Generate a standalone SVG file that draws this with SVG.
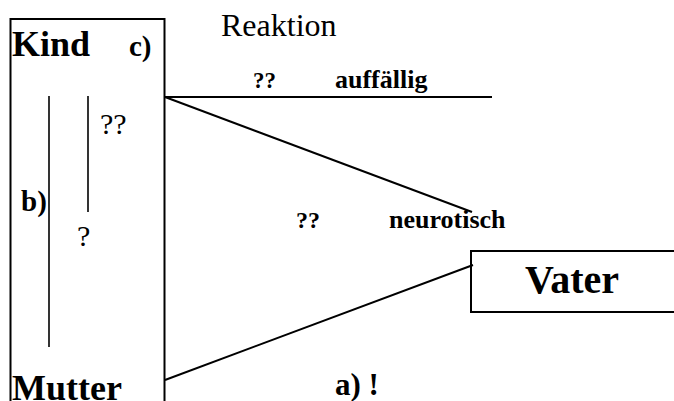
<svg xmlns="http://www.w3.org/2000/svg" width="674" height="401" viewBox="0 0 674 401">
<style>
.b{font-family:"Liberation Serif","Times New Roman",serif;font-weight:bold;fill:#000}
.r{font-family:"Liberation Serif","Times New Roman",serif;fill:#000}
.box{fill:#fff;stroke:#000;stroke-width:2}
.ln{stroke:#000;stroke-width:2;fill:none}
.thin{stroke:#000;stroke-width:1.6;fill:none}
</style>
<rect width="674" height="401" fill="#fff"/>
<g id="kind-mutter">
<rect class="box" x="10.5" y="19" width="154" height="400"/>
<text class="b" x="12" y="56" font-size="36">Kind</text>
<text class="b" x="129" y="56" font-size="29">c)</text>
<text class="b" x="12" y="400" font-size="36">Mutter</text>
</g>
<g id="inner">
<line class="thin" x1="49" y1="96" x2="49" y2="347"/>
<line class="thin" x1="88" y1="96" x2="88" y2="212"/>
<text class="r" x="100" y="134" font-size="30">??</text>
<text class="b" x="21" y="211" font-size="29">b)</text>
<text class="r" x="77" y="246" font-size="30">?</text>
</g>
<g id="vater">
<rect class="box" x="471" y="251" width="215" height="61"/>
<text class="b" x="525" y="293" font-size="40">Vater</text>
</g>
<g id="connectors">
<line class="ln" x1="165" y1="97" x2="492" y2="97"/>
<line class="ln" x1="165" y1="97" x2="472" y2="212"/>
<line class="ln" x1="165" y1="380" x2="473" y2="265"/>
</g>
<g id="labels">
<text class="r" x="221" y="36" font-size="32">Reaktion</text>
<text class="b" x="253" y="88" font-size="23">??</text>
<text class="b" x="335" y="88" font-size="26">auffällig</text>
<text class="b" x="296" y="228" font-size="24">??</text>
<text class="b" x="389" y="228" font-size="26">neurotisch</text>
<text class="b" x="335" y="395" font-size="31">a) !</text>
</g>
</svg>
